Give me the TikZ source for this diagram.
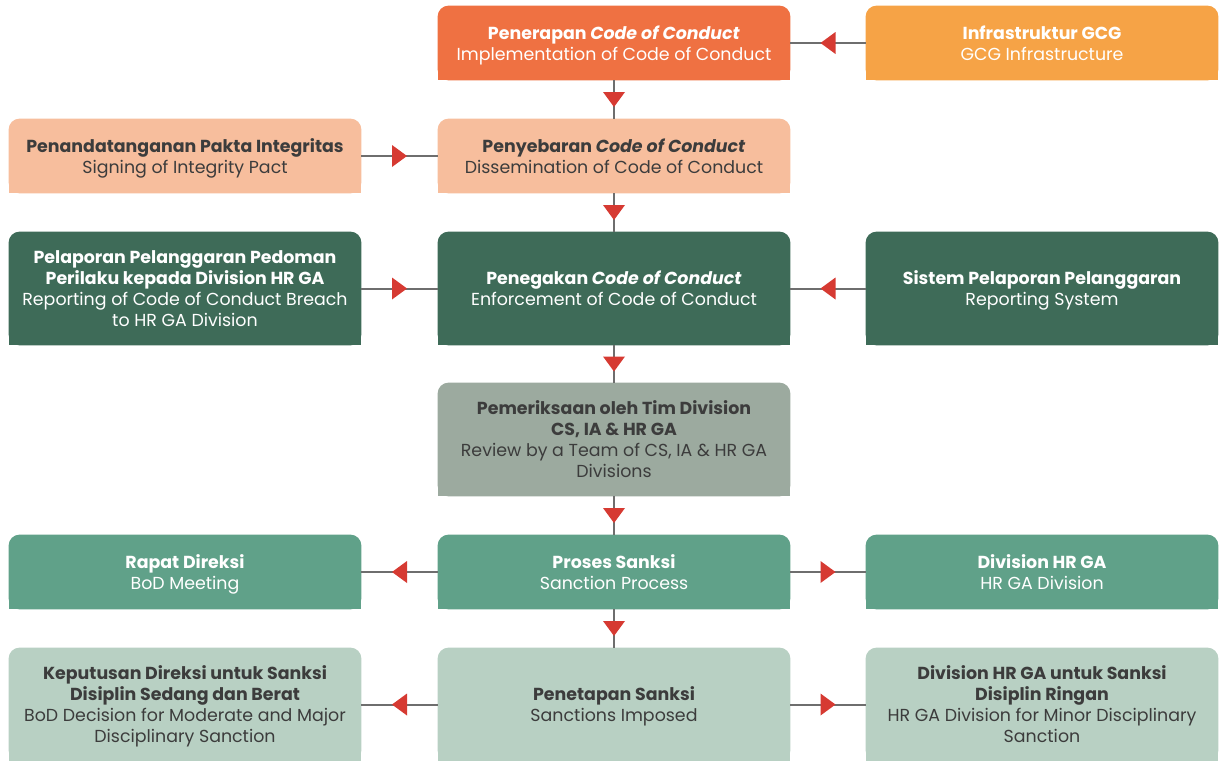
\documentclass[tikz,border=0pt]{standalone}
\usepackage{fontspec}
\setmainfont{Poppins}
\usetikzlibrary{backgrounds,decorations.markings}

\definecolor{cOrange}{HTML}{EF7142}
\definecolor{cAmber}{HTML}{F6A346}
\definecolor{cPeach}{HTML}{F7BE9D}
\definecolor{cForest}{HTML}{3E6B58}
\definecolor{cSage}{HTML}{9CAA9F}
\definecolor{cJade}{HTML}{60A189}
\definecolor{cMint}{HTML}{B8D0C3}
\definecolor{cInk}{HTML}{3C3C3C}
\definecolor{cLine}{HTML}{6E6E6E}
\definecolor{cRed}{HTML}{D63A32}

\tikzset{
  card/.style={minimum width=176pt, minimum height=37pt, inner sep=0pt,
    align=center, font=\fontsize{8.7}{10.5}\selectfont,
    text depth=-4.5pt}, % lets the text sit a little lower in the box
  tall/.style={card, minimum height=56.5pt},
  light/.style={text=white},
  dark/.style={text=cInk},
  flow/.style={draw=cLine, line width=1pt, postaction={decorate},
    decoration={markings, mark=at position 0.5 with
      {\fill[cRed] (-3.75pt,5.5pt) -- (3.75pt,0pt) -- (-3.75pt,-5.5pt) -- cycle;}}}
}

\begin{document}
\begin{tikzpicture}[x=0.5pt, y=-0.5pt]
    \useasboundingbox (0,0) rectangle (1220,760);

    % top of the chain
    \node[card, light] (impl) at (614,43) {\textbf{Penerapan \textit{Code of Conduct}}\\Implementation of Code of Conduct};
    \node[card, light] (infra) at (1042,43) {\textbf{Infrastruktur GCG}\\GCG Infrastructure};

    \node[card, dark] (sign) at (185,156) {\textbf{Penandatanganan Pakta Integritas}\\Signing of Integrity Pact};
    \node[card, dark] (dissem) at (614,156) {\textbf{Penyebaran \textit{Code of Conduct}}\\Dissemination of Code of Conduct};

    \node[tall, light] (report) at (185,288.5) {\textbf{Pelaporan Pelanggaran Pedoman}\\\textbf{Perilaku kepada Division HR GA}\\Reporting of Code of Conduct Breach\\to HR GA Division};
    \node[tall, light] (enforce) at (614,288.5) {\textbf{Penegakan \textit{Code of Conduct}}\\Enforcement of Code of Conduct};
    \node[tall, light] (whistle) at (1042,288.5) {\textbf{Sistem Pelaporan Pelanggaran}\\Reporting System};

    \node[tall, dark] (review) at (614,439.5) {\textbf{Pemeriksaan oleh Tim Division}\\\textbf{CS, IA \& HR GA}\\Review by a Team of CS, IA \& HR GA\\Divisions};

    % sanctions
    \node[card, light] (meeting) at (185,572) {\textbf{Rapat Direksi}\\BoD Meeting};
    \node[card, light] (sanction) at (614,572) {\textbf{Proses Sanksi}\\Sanction Process};
    \node[card, light] (hrga) at (1042,572) {\textbf{Division HR GA}\\HR GA Division};

    \node[tall, dark] (bodsanc) at (185,704.5) {\textbf{Keputusan Direksi untuk Sanksi}\\\textbf{Disiplin Sedang dan Berat}\\BoD Decision for Moderate and Major\\Disciplinary Sanction};
    \node[tall, dark] (imposed) at (614,704.5) {\textbf{Penetapan Sanksi}\\Sanctions Imposed};
    \node[tall, dark] (hrsanc) at (1042,704.5) {\textbf{Division HR GA untuk Sanksi}\\\textbf{Disiplin Ringan}\\HR GA Division for Minor Disciplinary\\Sanction};

    % boxes: rounded on top, square at the bottom
    \begin{pgfonlayer}{background}
        \foreach \n/\c in {impl/cOrange, infra/cAmber, sign/cPeach, dissem/cPeach,
            report/cForest, enforce/cForest, whistle/cForest, review/cSage,
            meeting/cJade, sanction/cJade, hrga/cJade,
            bodsanc/cMint, imposed/cMint, hrsanc/cMint} {
            \fill[\c, rounded corners=5.5pt] (\n.south west) rectangle (\n.north east);
            \fill[\c] (\n.south west) rectangle (\n.east);
        }
    \end{pgfonlayer}

    \draw[flow] (impl) -- (dissem);
    \draw[flow] (infra) -- (impl);
    \draw[flow] (sign) -- (dissem);
    \draw[flow] (dissem) -- (enforce);
    \draw[flow] (report) -- (enforce);
    \draw[flow] (whistle) -- (enforce);
    \draw[flow] (enforce) -- (review);
    \draw[flow] (review) -- (sanction);
    \draw[flow] (sanction) -- (meeting);
    \draw[flow] (sanction) -- (hrga);
    \draw[flow] (sanction) -- (imposed);
    \draw[flow] (imposed) -- (bodsanc);
    \draw[flow] (imposed) -- (hrsanc);
\end{tikzpicture}
\end{document}
